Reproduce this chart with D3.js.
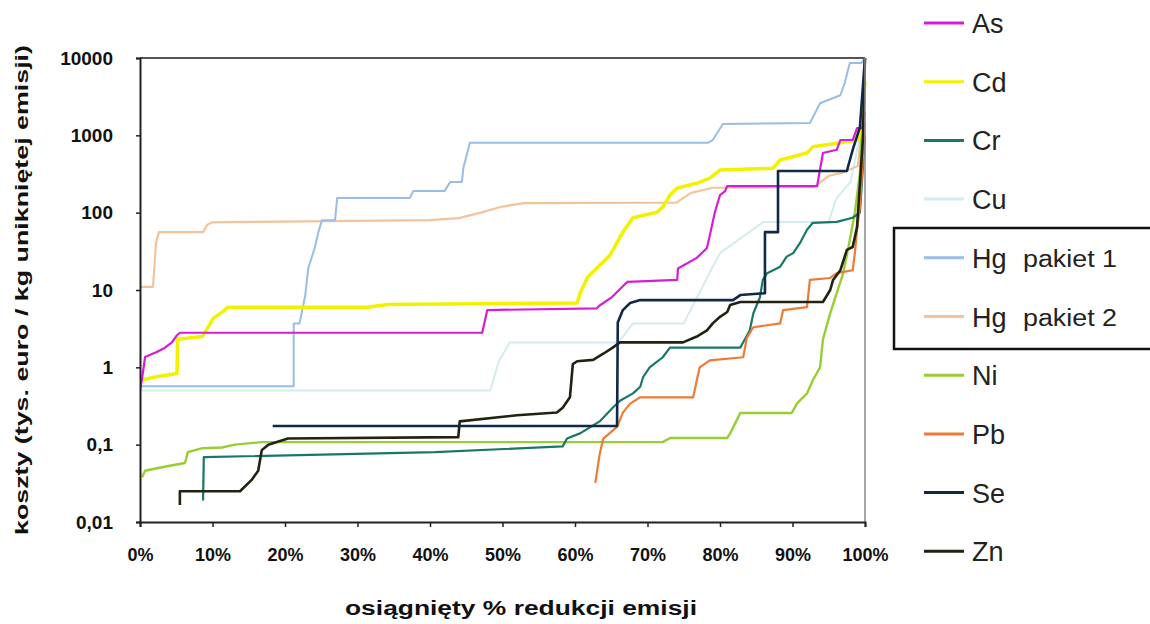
<!DOCTYPE html>
<html>
<head>
<meta charset="utf-8">
<script src="https://cdn.jsdelivr.net/npm/d3@7"></script>
<style>
  html, body { margin: 0; padding: 0; background: #fff; }
  svg { display: block; }
  text { font-family: "Liberation Sans", Arial, sans-serif; }
</style>
</head>
<body>
<svg id="chart" width="1150" height="624"></svg>
<script>
// ---------- data (x = % reduction, y = cost) ----------
const yTickValues = [0.01, 0.1, 1, 10, 100, 1000, 10000];
const yTickLabels = ["0,01", "0,1", "1", "10", "100", "1000", "10000"];
const xTickValues = [0, 10, 20, 30, 40, 50, 60, 70, 80, 90, 100];
const xTickLabels = ["0%", "10%", "20%", "30%", "40%", "50%", "60%", "70%", "80%", "90%", "100%"];

const seriesNames = ["As", "Cd", "Cr", "Cu", "Hg", "Hg", "Ni", "Pb", "Se", "Zn"];
const seriesSubLabels = ["", "", "", "", "pakiet 1", "pakiet 2", "", "", "", ""];
const seriesColors = ["#d81bd8", "#f2f200", "#187868", "#d5ecee", "#99bde6", "#f2c49a", "#9acd32", "#ef7a33", "#10284a", "#222211"];
const seriesWidths = [2.2, 3.5, 2.2, 2, 2, 2.2, 2.4, 2.2, 2.6, 2.6];

const hg2Data = [[0,11],[1.8,11],[2.2,40],[2.6,56],[8.7,56],[9.3,70],[10,75],[40,80],[44,85],[47,100],[50,120],[53,133],[74,135],[76,180],[79,210],[93,215],[95,300],[97,330],[99,400],[100,3000]];
const cuData = [[0,0.5],[48.3,0.5],[49.5,1.2],[51,2.1],[66,2.1],[68,3.7],[75,3.7],[79,20],[80,30],[86,76],[95,76],[96,150],[98,250],[100,2000]];
const hg1Data = [[0,0.57],[21.2,0.57],[21.2,3.7],[22,3.7],[22.8,8.6],[23.2,19],[24.1,35],[24.6,56],[25.1,80],[26.9,80],[27.2,155],[37.2,155],[37.7,190],[42,190],[42.8,250],[44.4,250],[44.6,378],[45.5,800],[78.3,800],[79,870],[80.4,1400],[92.4,1440],[93.8,2600],[96.6,3300],[97.2,4750],[97.9,8600],[99.5,8600],[100,10000]];
const asData = [[0,0.5],[0.3,0.73],[0.7,1.36],[2.3,1.58],[3.4,1.78],[4.4,2.1],[5.1,2.6],[5.5,2.8],[47.2,2.8],[47.9,5.5],[63,5.8],[63.4,6.3],[65.1,8.1],[67.2,12.7],[74.1,13.5],[74.2,19],[76.8,26],[78.2,35],[78.6,51],[79.3,102],[80,169],[80.7,190],[81,221],[93.4,221],[94.2,590],[96.1,650],[96.6,870],[98.3,870],[98.9,1240],[99.6,1240],[100,2000]];
const cdData = [[0,0.68],[2.1,0.75],[5.1,0.83],[5.2,2.3],[8.6,2.5],[9.7,3.7],[10.1,4.3],[11.7,5.5],[12.1,6],[31.4,6],[34.2,6.5],[60.3,6.8],[60.7,9.1],[61.7,14.5],[64.8,28],[65.8,41],[66.6,56],[68,86],[71.3,101],[72.1,118],[73.1,169],[74.1,208],[76.8,240],[78.6,280],[80,355],[87.3,375],[88.3,480],[92,590],[92.8,710],[96.6,800],[98.9,870],[99.3,1000],[100,5000]];
const crData = [[8.7,0.019],[8.8,0.069],[40.7,0.08],[58.3,0.095],[58.9,0.12],[60.7,0.14],[63.4,0.2],[65.2,0.3],[66.2,0.37],[68,0.46],[69,0.56],[69.4,0.75],[70.3,1],[72.1,1.35],[73.1,1.8],[82.8,1.8],[84.1,3],[84.6,5],[85.5,8],[85.9,13.5],[86.5,16.5],[88.3,20],[89.2,27],[90.1,30],[91,40],[92,60],[92.8,74],[96.1,76],[98.3,86],[99.3,100],[100,1000]];
const niData = [[0.3,0.038],[0.7,0.046],[3.9,0.053],[6.2,0.058],[6.6,0.08],[8.6,0.09],[11.3,0.092],[13.1,0.1],[16.8,0.108],[72.1,0.108],[73.1,0.122],[81,0.122],[81.4,0.14],[82.8,0.257],[89.9,0.257],[90.6,0.34],[92,0.46],[92.8,0.68],[93.8,1],[94.2,2.3],[95.2,5],[96.1,9.1],[97,16.5],[97.9,44],[98.6,100],[99.3,326],[99.7,2300],[100,5000]];
const pbData = [[62.8,0.032],[63.4,0.075],[63.9,0.12],[65.8,0.17],[66.6,0.26],[67.6,0.34],[69,0.41],[76.3,0.41],[76.8,0.68],[77.2,1.0],[78.6,1.23],[83.2,1.35],[83.7,2.4],[84.6,3.3],[88.3,3.7],[88.7,5.5],[92,6],[92.4,13.5],[95.2,14.3],[96.1,16.5],[98.3,18],[98.6,30],[98.9,60],[99.3,118],[100,1500]];
const seData = [[18.3,0.174],[65.8,0.174],[65.9,3.8],[66.6,5.5],[67.6,6.8],[69,7.4],[81.8,7.4],[82.8,8.6],[86.2,9.1],[86.2,56],[88,56],[88,346],[97.5,346],[98.3,650],[99.3,1280],[100,10000]];
const znData = [[5.5,0.0166],[5.5,0.025],[13.8,0.025],[15.4,0.035],[16.3,0.046],[16.8,0.085],[17.7,0.1],[20.4,0.12],[43.9,0.125],[44.1,0.2],[52,0.24],[57.5,0.26],[58.3,0.3],[59.3,0.41],[59.7,1.1],[60.3,1.2],[62.5,1.25],[63.9,1.5],[65.2,1.8],[66.2,2.1],[74.9,2.1],[76.8,2.5],[78.2,3.0],[79,3.7],[80,4.5],[81,5.2],[81.4,6.4],[82.8,7],[94.2,7],[95.2,10],[95.6,13.5],[96.6,18],[97.5,33],[98.3,36],[98.9,65],[99.7,870],[100,10000]];

// series in legend order
const seriesData = [asData, cdData, crData, cuData, hg1Data, hg2Data, niData, pbData, seData, znData];
// drawing order (back to front)
const drawOrder = [3, 5, 4, 6, 1, 0, 2, 7, 9, 8];

// ---------- chart ----------
const svg = d3.select("#chart");
const x = d3.scaleLinear().domain([0, 100]).range([140, 865]);
const y = d3.scaleLog().domain([0.01, 10000]).range([522, 58]);

svg.append("defs").append("clipPath").attr("id", "plotclip")
  .append("rect").attr("x", x(0)).attr("y", y(10000) - 2)
  .attr("width", x(100) - x(0) + 2).attr("height", y(0.01) - y(10000) + 2);

const line = d3.line().x(d => x(d[0])).y(d => y(d[1]));
const g = svg.append("g").attr("clip-path", "url(#plotclip)");
drawOrder.forEach(i => {
  g.append("path").datum(seriesData[i])
    .attr("d", line)
    .attr("fill", "none")
    .attr("stroke", seriesColors[i])
    .attr("stroke-width", seriesWidths[i])
    .attr("stroke-linejoin", "round");
});

// frame
svg.append("line").attr("x1", x(0)).attr("x2", x(100)).attr("y1", y(10000)).attr("y2", y(10000))
  .attr("stroke", "#555").attr("stroke-width", 2);
svg.append("line").attr("x1", x(100)).attr("x2", x(100)).attr("y1", y(10000)).attr("y2", y(0.01))
  .attr("stroke", "#888").attr("stroke-width", 1.5);

// axes
const yAxis = d3.axisLeft(y).tickValues(yTickValues)
  .tickFormat((d, i) => yTickLabels[i]).tickSize(4).tickPadding(23);
const yg = svg.append("g").attr("transform", `translate(${x(0)},0)`).call(yAxis);
yg.select(".domain").attr("stroke", "#222").attr("stroke-width", 2);
yg.selectAll(".tick line").attr("stroke", "#222").attr("stroke-width", 1.5);
yg.selectAll(".tick text").attr("font-size", 19).attr("font-weight", "bold")
  .attr("fill", "#111").attr("font-family", "Liberation Sans, Arial, sans-serif");

const xAxis = d3.axisBottom(x).tickValues(xTickValues)
  .tickFormat((d, i) => xTickLabels[i]).tickSize(5).tickPadding(21);
const xg = svg.append("g").attr("transform", `translate(0,${y(0.01)})`).call(xAxis);
xg.select(".domain").attr("stroke", "#222").attr("stroke-width", 2);
xg.selectAll(".tick line").attr("stroke", "#222").attr("stroke-width", 1.5);
xg.selectAll(".tick text").attr("font-size", 18).attr("font-weight", "bold")
  .attr("fill", "#111").attr("font-family", "Liberation Sans, Arial, sans-serif");

// axis titles
svg.append("text")
  .attr("transform", "translate(28,290) rotate(-90)")
  .attr("text-anchor", "middle")
  .attr("font-size", 19).attr("font-weight", "bold").attr("fill", "#111")
  .attr("textLength", 490).attr("lengthAdjust", "spacingAndGlyphs")
  .text("koszty (tys. euro / kg unikniętej emisji)");

svg.append("text")
  .attr("x", 521).attr("y", 615)
  .attr("text-anchor", "middle")
  .attr("font-size", 20).attr("font-weight", "bold").attr("fill", "#111")
  .attr("textLength", 352).attr("lengthAdjust", "spacingAndGlyphs")
  .text("osiągnięty % redukcji emisji");

// legend
const legendY0 = 23, legendStep = 58.7;
const lg = svg.append("g");
seriesNames.forEach((name, i) => {
  const cy = legendY0 + i * legendStep;
  lg.append("line").attr("x1", 924).attr("x2", 964).attr("y1", cy).attr("y2", cy)
    .attr("stroke", seriesColors[i]).attr("stroke-width", 3);
  lg.append("text").attr("x", 972).attr("y", cy + 10)
    .attr("font-size", 27).attr("fill", "#222").text(name);
  if (seriesSubLabels[i]) {
    lg.append("text").attr("x", 1023).attr("y", cy + 9)
      .attr("font-size", 23).attr("fill", "#222")
      .attr("textLength", 94).attr("lengthAdjust", "spacingAndGlyphs")
      .text(seriesSubLabels[i]);
  }
});
lg.append("rect").attr("x", 894).attr("y", 228).attr("width", 300).attr("height", 121)
  .attr("fill", "none").attr("stroke", "#111").attr("stroke-width", 2.5);
</script>
</body>
</html>
